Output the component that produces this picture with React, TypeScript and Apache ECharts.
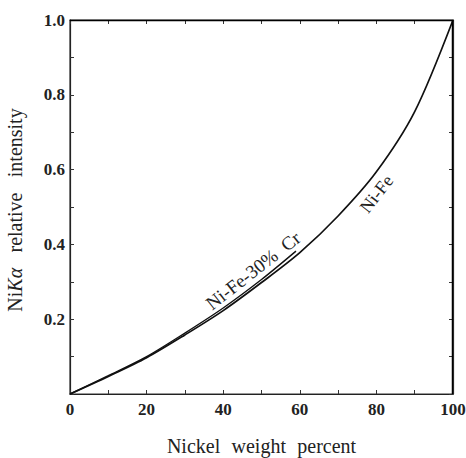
import React, { useEffect, useRef } from "react";
import * as echarts from "echarts";

const nickelPct = [0, 10, 20, 30, 40, 50, 60, 70, 80, 90, 100];
const niFe = [0, 0.047, 0.097, 0.158, 0.223, 0.298, 0.378, 0.476, 0.594, 0.755, 1.0];
const crPct = [0, 10, 20, 30, 40, 50, 59];
const niFeCr = [0, 0.049, 0.1, 0.163, 0.23, 0.306, 0.382];
const xTickLabels = ["0", "20", "40", "60", "80", "100"];
const yTickLabels = ["0.2", "0.4", "0.6", "0.8", "1.0"];

const FONT = "Liberation Serif";

export default function App() {
  const ref = useRef<HTMLDivElement>(null);
  useEffect(() => {
    document.body.style.margin = "0";
    const chart = echarts.init(ref.current!, null, { renderer: "svg" });
    const axisLine = { show: true, onZero: false, lineStyle: { color: "#222", width: 1.2 } };
    const frameLine = { show: true, onZero: false, lineStyle: { color: "#333", width: 1.2 } };
    const tick = { show: true, inside: true, length: 4, lineStyle: { color: "#333", width: 1 } };
    chart.setOption({
      animation: false,
      backgroundColor: "#fff",
      grid: {
        left: 70,
        right: 13,
        top: 20,
        bottom: 64,
        containLabel: false,
        outerBoundsMode: "none",
        show: true,
        borderColor: "#333",
        borderWidth: 1.2,
        backgroundColor: "rgba(0,0,0,0)",
      },
      xAxis: [
        {
          type: "value",
          gridIndex: 0,
          min: 0,
          max: 100,
          interval: 10,
          position: "bottom",
          axisLine,
          axisTick: tick,
          splitLine: { show: false },
          axisLabel: {
            margin: 7,
            fontFamily: FONT,
            fontSize: 17,
            fontWeight: "bold",
            color: "#222",
            formatter: (v: number) => {
              const s = String(Math.round(v));
              return xTickLabels.includes(s) ? s : "";
            },
          },
          name: "{w|Nickel} {w|weight} {w|percent}",
          nameLocation: "middle",
          nameGap: 42,
          nameTextStyle: {
            rich: { w: { fontFamily: FONT, fontSize: 20, color: "#222", padding: [0, 4] } },
          },
        },
        {
          type: "value",
          gridIndex: 0,
          show: true,
          min: 0,
          max: 100,
          interval: 10,
          position: "top",
          axisLine: frameLine,
          axisTick: tick,
          axisLabel: { show: false },
          splitLine: { show: false },
        },
      ],
      yAxis: [
        {
          type: "value",
          gridIndex: 0,
          min: 0,
          max: 1,
          interval: 0.1,
          position: "left",
          axisLine,
          axisTick: tick,
          splitLine: { show: false },
          axisLabel: {
            margin: 5,
            fontFamily: FONT,
            fontSize: 17,
            fontWeight: "bold",
            color: "#222",
            formatter: (v: number) => {
              const s = v.toFixed(1);
              return yTickLabels.includes(s) ? s : "";
            },
          },
          name: "{a|Ni}{b|Kα} {w|relative} {w|intensity}",
          nameLocation: "middle",
          nameGap: 45,
          nameRotate: 90,
          nameTextStyle: {
            rich: {
              a: { fontFamily: FONT, fontSize: 20, color: "#222" },
              b: { fontFamily: FONT, fontSize: 20, color: "#222", fontStyle: "italic", padding: [0, 6, 0, 0] },
              w: { fontFamily: FONT, fontSize: 20, color: "#222", padding: [0, 6] },
            },
          },
        },
        {
          type: "value",
          gridIndex: 0,
          show: true,
          min: 0,
          max: 1,
          interval: 0.1,
          position: "right",
          axisLine: frameLine,
          axisTick: tick,
          axisLabel: { show: false },
          splitLine: { show: false },
        },
      ],
      series: [
        {
          name: "Ni-Fe",
          type: "line",
          smooth: 0.3,
          symbol: "none",
          lineStyle: { color: "#111", width: 1.7 },
          data: nickelPct.map((x, i) => [x, niFe[i]]),
        },
        {
          name: "Ni-Fe-30% Cr",
          type: "line",
          smooth: 0.3,
          symbol: "none",
          lineStyle: { color: "#111", width: 1.4 },
          data: crPct.map((x, i) => [x, niFeCr[i]]),
        },
      ],
    });
    const px = (x: number, y: number) => chart.convertToPixel({ gridIndex: 0 }, [x, y]) as number[];
    const p1 = px(47.8, 0.33);
    const p2 = px(80.0, 0.535);
    const tl = px(0, 1);
    const tr = px(100, 1);
    const br = px(100, 0);
    chart.setOption({
      graphic: [
        {
          type: "line",
          z: 100,
          shape: { x1: tl[0], y1: tl[1] + 0.5, x2: tr[0], y2: tr[1] + 0.5 },
          style: { stroke: "#000", lineWidth: 1.5 },
        },
        {
          type: "line",
          z: 100,
          shape: { x1: tr[0] - 0.5, y1: tr[1], x2: br[0] - 0.5, y2: br[1] },
          style: { stroke: "#000", lineWidth: 1.5 },
        },
        {
          type: "text",
          x: p1[0],
          y: p1[1],
          rotation: (38 * Math.PI) / 180,
          style: {
            text: "Ni-Fe-30%  Cr",
            fontFamily: FONT,
            fontSize: 19,
            fill: "#222",
            align: "center",
            verticalAlign: "middle",
          },
        },
        {
          type: "text",
          x: p2[0],
          y: p2[1],
          rotation: (52 * Math.PI) / 180,
          style: {
            text: "Ni-Fe",
            fontFamily: FONT,
            fontSize: 18,
            fill: "#222",
            align: "center",
            verticalAlign: "middle",
          },
        },
      ],
    });
    return () => chart.dispose();
  }, []);
  return <div ref={ref} style={{ width: 466, height: 458 }} />;
}
